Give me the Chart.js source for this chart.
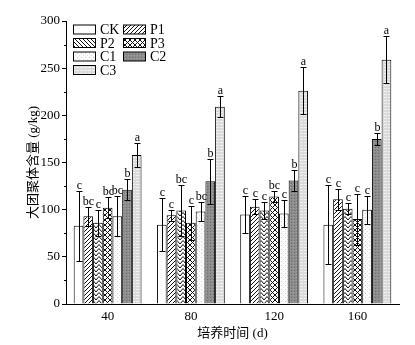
<!DOCTYPE html>
<html lang="zh">
<head>
<meta charset="UTF-8" />
<title>大团聚体含量</title>
<script src="https://cdn.jsdelivr.net/npm/chart.js"></script>
<style>
  html, body { margin: 0; padding: 0; background: #fff; }
  #wrap { width: 415px; height: 345px; }
</style>
</head>
<body>
<div id="wrap"><canvas id="aggChart" width="415" height="345"></canvas></div>
<script>
// incubation days (x categories) and treatments
const days = ['40', '80', '120', '160'];
const treatments = ['CK', 'P1', 'P2', 'P3', 'C1', 'C2', 'C3'];

// mean macro-aggregate content, g/kg
const ck = [83, 84, 95, 84];
const p1 = [93, 94, 103, 111];
const p2 = [86, 99, 99, 101];
const p3 = [102, 86, 114, 90];
const c1 = [93, 98, 96, 100];
const c2 = [121, 130, 131, 175];
const c3 = [158, 209, 226, 259];

// standard deviations
const ckErr = [37, 28, 20, 42];
const p1Err = [10, 6, 8, 11];
const p2Err = [14, 27, 9, 6];
const p3Err = [11, 18, 6, 27];
const c1Err = [21, 10, 14, 15];
const c2Err = [11, 24, 11, 6];
const c3Err = [13, 11, 25, 25];

// significance letters
const ckSig = ['c', 'c', 'c', 'c'];
const p1Sig = ['bc', 'c', 'c', 'c'];
const p2Sig = ['c', 'bc', 'c', 'c'];
const p3Sig = ['bc', 'c', 'bc', 'c'];
const c1Sig = ['bc', 'bc', 'c', 'c'];
const c2Sig = ['b', 'b', 'b', 'b'];
const c3Sig = ['a', 'a', 'a', 'a'];

const yTicks = [0, 50, 100, 150, 200, 250, 300];

const SERIF = '"Liberation Serif", "Times New Roman", "Noto Sans CJK SC", serif';

// ---- fill patterns ----
function makeTile(w, h, draw) {
  const c = document.createElement('canvas');
  c.width = w; c.height = h;
  const g = c.getContext('2d');
  draw(g, w, h);
  return document.createElement('canvas').getContext('2d').createPattern(c, 'repeat');
}

function diagonal(g, w, h, up) {
  g.fillStyle = '#fff'; g.fillRect(0, 0, w, h);
  g.strokeStyle = '#111'; g.lineWidth = 1;
  g.beginPath();
  for (let k = -1; k <= 1; k++) {
    if (up) { g.moveTo(k * w - 1, h + 1); g.lineTo(k * w + w + 1, -1); }
    else { g.moveTo(k * w - 1, -1); g.lineTo(k * w + w + 1, h + 1); }
  }
  g.stroke();
}

const fills = {
  CK: '#ffffff',
  P1: makeTile(4, 4, (g, w, h) => diagonal(g, w, h, true)),
  P2: makeTile(6, 4, (g, w, h) => {
    // chevron rows
    g.fillStyle = '#fff'; g.fillRect(0, 0, w, h);
    g.strokeStyle = '#111'; g.lineWidth = 1;
    g.beginPath();
    g.moveTo(0, h); g.lineTo(w / 2, 0.5); g.lineTo(w, h);
    g.stroke();
  }),
  P3: makeTile(5, 5, (g, w, h) => {
    g.fillStyle = '#fff'; g.fillRect(0, 0, w, h);
    g.strokeStyle = '#111'; g.lineWidth = 1;
    g.beginPath();
    g.moveTo(0, 0); g.lineTo(w, h);
    g.moveTo(w, 0); g.lineTo(0, h);
    g.stroke();
  }),
  C1: makeTile(4, 4, (g, w, h) => {
    g.fillStyle = '#fbfbfb'; g.fillRect(0, 0, w, h);
    g.fillStyle = '#d0d0d0'; g.fillRect(1, 1, 1, 1);
    g.fillStyle = '#e2e2e2'; g.fillRect(3, 3, 1, 1);
  }),
  C2: makeTile(3, 3, (g, w, h) => {
    g.fillStyle = '#8c8c8c'; g.fillRect(0, 0, w, h);
    g.fillStyle = '#6e6e6e'; g.fillRect(0, 0, 1, 1);
    g.fillStyle = '#a2a2a2'; g.fillRect(2, 1, 1, 1);
  }),
  C3: makeTile(4, 3, (g, w, h) => {
    g.fillStyle = '#dadada'; g.fillRect(0, 0, w, h);
    g.fillStyle = '#f0f0f0'; g.fillRect(0, 1, 3, 1);
  })
};

// P2 swatch in the key is plain back-hatching
const p2KeyFill = makeTile(4, 4, (g, w, h) => diagonal(g, w, h, false));

const means = [ck, p1, p2, p3, c1, c2, c3];
const errs = [ckErr, p1Err, p2Err, p3Err, c1Err, c2Err, c3Err];
const sigs = [ckSig, p1Sig, p2Sig, p3Sig, c1Sig, c2Sig, c3Sig];

const datasets = treatments.map((name, i) => ({
  label: name,
  data: means[i],
  err: errs[i],
  sig: sigs[i],
  backgroundColor: fills[name],
  borderColor: '#000',
  borderWidth: 1,
  barPercentage: 1,
  categoryPercentage: 0.815
}));

// error bars and letters on top of every bar
const errorBars = {
  id: 'errorBars',
  afterDatasetsDraw(chart) {
    const ctx = chart.ctx;
    const y = chart.scales.y;
    ctx.save();
    ctx.strokeStyle = '#000';
    ctx.lineWidth = 1;
    ctx.fillStyle = '#000';
    ctx.font = '12px ' + SERIF;
    ctx.textAlign = 'center';
    ctx.textBaseline = 'bottom';
    chart.data.datasets.forEach((ds, i) => {
      const meta = chart.getDatasetMeta(i);
      meta.data.forEach((bar, j) => {
        const v = ds.data[j], e = ds.err[j];
        const x = Math.round(bar.x) + 0.5;
        const top = Math.round(y.getPixelForValue(v + e)) + 0.5;
        const bot = Math.round(y.getPixelForValue(v - e)) + 0.5;
        ctx.beginPath();
        ctx.moveTo(x, top); ctx.lineTo(x, bot);
        ctx.moveTo(x - 3, top); ctx.lineTo(x + 3, top);
        ctx.moveTo(x - 3, bot); ctx.lineTo(x + 3, bot);
        ctx.stroke();
        ctx.fillText(ds.sig[j], x, top);
      });
    });
    ctx.restore();
  }
};

// minor ticks on the y axis
const minorTicks = {
  id: 'minorTicks',
  afterDraw(chart) {
    const ctx = chart.ctx;
    const y = chart.scales.y;
    const x0 = chart.chartArea.left;
    ctx.save();
    ctx.strokeStyle = '#000';
    ctx.lineWidth = 1;
    ctx.beginPath();
    for (let v = 25; v < 300; v += 50) {
      const py = Math.round(y.getPixelForValue(v)) + 0.5;
      ctx.moveTo(x0 - 2, py); ctx.lineTo(x0, py);
    }
    ctx.stroke();
    ctx.restore();
  }
};

// two-column key in the top-left corner of the plot
const keyBox = {
  id: 'keyBox',
  afterDraw(chart) {
    const ctx = chart.ctx;
    const cols = [73, 123];
    const rows = [29.5, 43, 56.5, 70];
    ctx.save();
    ctx.font = '14px ' + SERIF;
    ctx.textBaseline = 'middle';
    ctx.textAlign = 'left';
    chart.data.datasets.forEach((ds, i) => {
      const bx = cols[i % 2], by = rows[Math.floor(i / 2)];
      ctx.fillStyle = ds.label === 'P2' ? p2KeyFill : ds.backgroundColor;
      ctx.fillRect(bx, by - 4.5, 23, 9);
      ctx.strokeStyle = '#000';
      ctx.lineWidth = 1;
      ctx.strokeRect(bx + 0.5, by - 4.5, 22, 9);
      ctx.fillStyle = '#000';
      ctx.fillText(ds.label, bx + 27, by + 1);
    });
    ctx.restore();
  }
};

new Chart(document.getElementById('aggChart'), {
  type: 'bar',
  data: { labels: days, datasets },
  options: {
    responsive: false,
    animation: false,
    layout: { padding: { left: 0, right: 16, top: 21, bottom: 0 } },
    plugins: { legend: { display: false }, tooltip: { enabled: false } },
    scales: {
      x: {
        grid: { display: false, drawTicks: false },
        border: { display: true, color: '#000', width: 1 },
        ticks: { color: '#000', padding: 5, font: { family: SERIF, size: 13 } },
        title: {
          display: true, text: '培养时间 (d)', color: '#000',
          font: { family: SERIF, size: 13 }, padding: { top: 0, bottom: 4 }
        },
        afterFit(s) { s.height = 41; }
      },
      y: {
        min: 0, max: 300,
        afterBuildTicks(s) { s.ticks = yTicks.map(v => ({ value: v })); },
        grid: { drawOnChartArea: false, tickLength: 4, color: '#000' },
        border: { display: true, color: '#000', width: 1 },
        ticks: { color: '#000', padding: 2, font: { family: SERIF, size: 13 } },
        title: {
          display: true, text: '大团聚体含量 (g/kg)', color: '#000',
          font: { family: SERIF, size: 13 }, padding: { top: 26, bottom: 0 }
        },
        afterFit(s) { s.width = 66; }
      }
    }
  },
  plugins: [errorBars, minorTicks, keyBox]
});
</script>
</body>
</html>
